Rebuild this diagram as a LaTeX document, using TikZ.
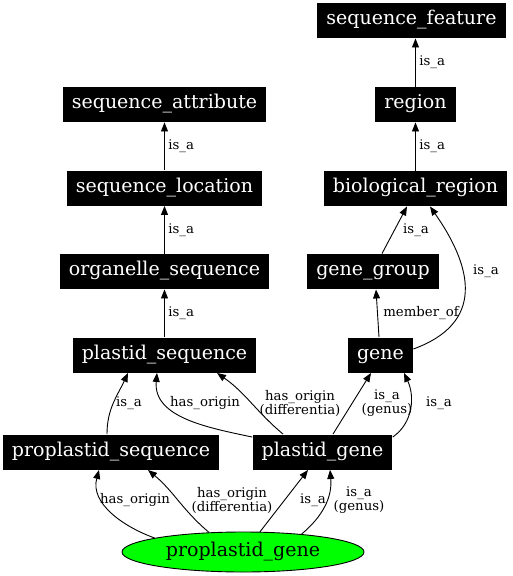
\documentclass[tikz,border=0pt]{standalone}
\usepackage{fontspec}
\setmainfont{DejaVu Serif}
\usetikzlibrary{arrows.meta,positioning,shapes.geometric}

\begin{document}
\begin{tikzpicture}
        [
            x = 1pt, y = -1pt,
            line width = 0.9pt,
            > = {Triangle[length=9pt,width=7pt]},
            term/.style = {
                fill=black, text=white, rectangle, inner xsep=9pt,
                font=\fontsize{19}{19}\selectfont,
                minimum height=35pt,
                text height=2.2ex, text depth=.6ex},
            focus/.style = {
                ellipse, draw, fill=green, inner sep=0pt,
                font=\fontsize{19}{19}\selectfont,
                minimum width=242pt, minimum height=40pt},
            map/.style = {font=\fontsize{13.3}{14}\selectfont, align=center}
        ]
        \useasboundingbox (0,0) rectangle (512,576);
        \node [term] (sf) at (411.5,20.5) {sequence\_feature};
        \node [term] (region) at (415.5,104.5) {region};
        \node [term] (bio) at (415.5,188.5) {biological\_region};
        \node [term] (gg) at (373,271.5) {gene\_group};
        \node [term] (gene) at (380.5,355) {gene};
        \node [term] (sa) at (164.5,104.5) {sequence\_attribute};
        \node [term] (sl) at (164.5,188) {sequence\_location};
        \node [term] (os) at (164.5,271.5) {organelle\_sequence};
        \node [term] (ps) at (164.5,355) {plastid\_sequence};
        \node [term] (pseq) at (111,452) {proplastid\_sequence};
        \node [term] (pg) at (322.5,452) {plastid\_gene};
        \node [focus] (ppg) at (243,552) {proplastid\_gene};
        \draw [->] (region.north) -- node [map, right] {is\_a} (region.north |- sf.south);
        \draw [->] (bio) -- node [map, right] {is\_a} (region);
        \draw [->] ([xshift=9pt]gg.north) -- ([xshift=-8.5pt]bio.south);
        \draw [->] ([yshift=6pt]gene.east) to [out=20,in=-55,looseness=1.35] ([xshift=14.5pt]bio.south);
        \draw [->] ([xshift=-1.5pt]gene.north) -- ([xshift=3pt]gg.south);
        \draw [->] (sl) -- node [map, right] {is\_a} (sa);
        \draw [->] (os) -- node [map, right] {is\_a} (sl);
        \draw [->] (ps) -- node [map, right] {is\_a} (os);
        \draw [->] ([xshift=-4pt]pseq.north) to [out=90,in=245] ([xshift=-36.5pt]ps.south);
        \draw [->] ([yshift=-3pt]pg.north west) to [out=168,in=265] ([xshift=-7.5pt]ps.south);
        \draw [->] ([xshift=-39.5pt]pg.north) to [out=140,in=325] ([xshift=52.5pt]ps.south);
        \draw [->] ([xshift=10.5pt]pg.north) -- ([xshift=-9.5pt]gene.south);
        \draw [->] ([yshift=-3pt]pg.north east) to [out=35,in=-65] ([xshift=23.5pt]gene.south);
        \draw [->] (ppg.171) to [out=160,in=-105] ([xshift=-12pt]pseq.south);
        \draw [->] (ppg.150) to [out=140,in=-40] ([xshift=37pt]pseq.south);
        \draw [->] (ppg.50) -- ([xshift=-14.5pt]pg.south);
        \draw [->] (ppg.17) to [out=40,in=-85] ([xshift=7.5pt]pg.south);
        % edge labels
        \node [map] (l1) at (416,230) {is\_a};
        \node [map] (l2) at (486,271) {is\_a};
        \node [map] (l3) at (421,313) {member\_of};
        \node [map] (l4) at (129,403) {is\_a};
        \node [map] (l5) at (205,403) {has\_origin};
        \node [map] (l6) at (300,403) {has\_origin\\(differentia)};
        \node [map] (l7) at (387,403) {is\_a\\(genus)};
        \node [map] (l8) at (439,403) {is\_a};
        \node [map] (l9) at (135,500) {has\_origin};
        \node [map] (l10) at (232,500) {has\_origin\\(differentia)};
        \node [map] (l11) at (313,500) {is\_a};
        \node [map] (l12) at (359,500) {is\_a\\(genus)};
    \end{tikzpicture}
\end{document}
